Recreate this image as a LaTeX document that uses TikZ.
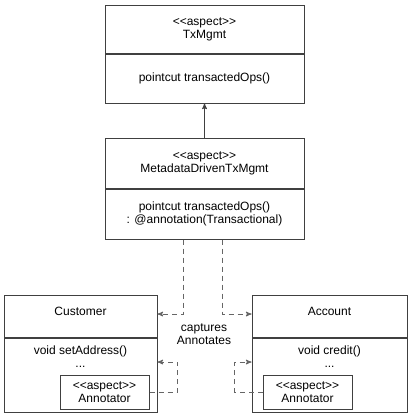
\documentclass[tikz,border=0pt]{standalone}
\usepackage{fontspec}
\setmainfont{Liberation Sans}
\usetikzlibrary{positioning, arrows}
\newcommand{\aspectlbl}{<{}<aspect>{}>}
\tikzset{
	>=stealth', % small filled arrow heads
	cls/.style={draw=black!75, line width=1pt, inner sep=0pt, align=center, font=\fontsize{12}{13}\selectfont}, % class compartments
	txt/.style={inner sep=0pt, align=center, font=\fontsize{12}{13}\selectfont}, % free text
	dep/.style={->, draw=black!60, line width=1pt, dash pattern=on 5pt off 4pt}, % dashed dependencies
}
\begin{document}
\begin{tikzpicture}[x=1pt, y=-1pt]
	\useasboundingbox (0,0) rectangle (410,415);
	% Aspects
	\node[cls, minimum width=199pt, minimum height=48pt] (txhead) at (204.5,29) {\aspectlbl\\TxMgmt};
	\node[cls, minimum width=199pt, minimum height=49pt, below=0pt of txhead] (txbody) {pointcut transactedOps()};
	\node[cls, minimum width=199pt, minimum height=50pt] (mdhead) at (204.5,163) {\aspectlbl\\MetadataDrivenTxMgmt};
	\node[cls, minimum width=199pt, minimum height=50pt, below=0pt of mdhead] (mdbody) {pointcut transactedOps()\\: @annotation(Transactional)};
	
	% Classes
	\node[cls, minimum width=153pt, minimum height=42pt, text depth=9pt] (custhead) at (80.5,316) {Customer};
	\node[cls, minimum width=153pt, minimum height=74pt, below=0pt of custhead] (custbody) {};
	\node[txt, below=8pt of custhead.south] (custops) {void setAddress()\\...};
	\node[cls, minimum width=89pt, minimum height=34pt, above left=3pt and 8pt of custbody.south east] (custann) {\aspectlbl\\Annotator};
	
	\node[cls, minimum width=155pt, minimum height=42pt, text depth=9pt] (acchead) at (329.5,316) {Account};
	\node[cls, minimum width=155pt, minimum height=74pt, below=0pt of acchead] (accbody) {};
	\node[txt, below=8pt of acchead.south] (accops) {void credit()\\...};
	\node[cls, minimum width=89pt, minimum height=34pt, above right=3pt and 11pt of accbody.south west] (accann) {\aspectlbl\\Annotator};
	
	\node[txt] (capt) at (204,334) {captures\\Annotates};
	
	% Connectors
	\draw[->, draw=black!75, line width=1pt] (mdhead) -- (txbody);
	\draw[dep] ([xshift=-21.5pt]mdbody.south) |- ([yshift=2pt]custhead.east);
	\draw[dep] ([xshift=17.5pt]mdbody.south) |- ([yshift=2pt]acchead.west);
	\draw[dep] (custann.east) -- ++(28,0) |- ([yshift=13pt]custbody.east);
	\draw[dep] (accann.west) -- ++(-28,0) |- ([yshift=13pt]accbody.west);
\end{tikzpicture}
\end{document}
